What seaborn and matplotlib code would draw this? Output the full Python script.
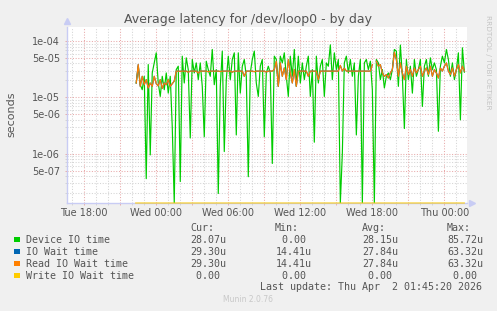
import numpy as np
import pandas as pd
import matplotlib
matplotlib.use("Agg")
import matplotlib.pyplot as plt
import matplotlib.dates as mdates
from matplotlib.patches import Rectangle
from matplotlib.ticker import FixedLocator, FuncFormatter, NullFormatter
import seaborn as sns

# ---------------- data (microseconds, 10-minute samples) ----------------
start_time = "2026-03-31 22:20"
sample_step = "10min"

device_io_us = [
    18.0, 35.8, 16.8, 13.7, 23.7, 0.36, 38.3, 0.95, 27.2, 41.0,
    61.9, 18.0, 10.4, 23.7, 13.7, 27.2, 11.9, 23.7, 3.0, 0.0,
    31.2, 35.8, 0.32, 54.0, 18.0, 50.4, 31.2, 1.9, 47.1, 27.2,
    41.0, 20.7, 41.0, 15.7, 2.0, 43.9, 31.2, 23.7, 71.0, 16.8,
    31.2, 0.196, 15.7, 66.3, 1.09, 20.7, 54.0, 20.7, 47.1, 61.9,
    2.15, 61.9, 11.9, 35.8, 47.1, 23.7, 0.39, 27.2, 47.1, 66.3,
    18.0, 10.4, 35.8, 47.1, 2.0, 27.2, 35.8, 27.2, 0.67, 54.0,
    47.1, 15.7, 54.0, 41.0, 61.9, 23.7, 10.4, 54.0, 23.7, 71.0,
    15.7, 54.0, 18.0, 41.0, 20.7, 35.8, 54.0, 10.4, 31.2, 1.6,
    54.0, 18.0, 35.8, 47.1, 10.4, 41.0, 35.8, 85.72, 20.7, 61.9,
    31.2, 47.1, 0.0, 1.01, 41.0, 54.0, 27.2, 47.1, 23.7, 41.0,
    2.15, 23.7, 47.1, 0.0, 41.0, 47.1, 31.2, 43.9, 13.7, 0.0,
    47.1, 41.0, 20.7, 31.2, 14.7, 23.7, 27.2, 20.7, 31.2, 71.0,
    66.3, 15.7, 85.0, 23.7, 2.8, 47.1, 20.7, 35.8, 11.9, 47.1,
    23.7, 31.2, 47.1, 6.9, 35.8, 47.1, 23.7, 50.4, 31.2, 41.0,
    31.2, 2.5, 35.8, 54.0, 41.0, 71.0, 47.1, 23.7, 41.0, 20.7,
    31.2, 61.9, 4.0, 76.0, 28.07,
]

read_io_wait_us = [
    18.0, 38.3, 15.7, 23.7, 16.8, 20.7, 14.7, 18.0, 15.7, 23.7,
    17.5, 16.0, 20.7, 14.41, 18.0, 16.8, 20.7, 15.7, 17.5, 19.5,
    29.3, 29.3, 29.0, 29.3, 29.3, 29.3, 28.0, 29.3, 29.3, 29.3,
    29.3, 27.0, 29.3, 29.3, 29.3, 29.3, 28.5, 29.3, 29.3, 29.3,
    29.3, 29.3, 28.8, 29.3, 29.3, 29.3, 29.3, 29.3, 28.0, 29.3,
    29.3, 29.3, 29.3, 29.3, 23.7, 29.3, 29.3, 29.3, 29.3, 28.6,
    29.3, 29.3, 29.3, 29.3, 29.3, 28.2, 29.3, 29.3, 29.3, 31.2,
    43.9, 15.7, 41.0, 23.7, 33.4, 20.7, 47.1, 27.2, 18.0, 31.2,
    15.7, 29.3, 29.3, 29.3, 29.3, 29.3, 23.7, 29.3, 29.3, 29.3,
    29.3, 20.7, 29.3, 29.3, 29.3, 29.3, 29.3, 29.3, 29.3, 29.3,
    29.3, 29.3, 37.0, 29.3, 33.0, 29.3, 29.3, 29.3, 29.3, 29.3,
    29.3, 29.3, 29.3, 29.3, 29.3, 29.3, 29.3, 29.3, 38.3, np.nan,
    43.9, 35.8, 38.3, 27.2, 23.7, 25.4, 22.1, 27.2, 31.2, 63.32,
    47.1, 23.7, 41.0, 27.2, 20.7, 35.8, 25.4, 31.2, 23.7, 33.4,
    27.2, 31.2, 35.8, 23.7, 29.3, 33.4, 25.4, 35.8, 23.7, 31.2,
    27.2, 22.1, 33.4, 29.3, 35.8, 41.0, 29.3, 25.4, 33.4, 23.7,
    31.2, 38.3, 27.2, 35.8, 29.3,
]
io_wait_us = list(read_io_wait_us)          # identical per legend statistics
write_io_wait_us = [0.0] * len(device_io_us)  # constant 0.00 per legend

series_names = ["Device IO time", "IO Wait time", "Read IO Wait time", "Write IO Wait time"]
series_colors = ["#00CC00", "#0066B3", "#FF8000", "#FFCC00"]
stat_cur = ["28.07u", "29.30u", "29.30u", " 0.00"]
stat_min = [" 0.00", "14.41u", "14.41u", " 0.00"]
stat_avg = ["28.15u", "27.84u", "27.84u", " 0.00"]
stat_max = ["85.72u", "63.32u", "63.32u", " 0.00"]

title = "Average latency for /dev/loop0 - by day"
y_label = "seconds"
last_update = "Last update: Thu Apr  2 01:45:20 2026"
x_start, x_end = "2026-03-31 16:34", "2026-04-02 01:53"
y_min, y_max = 1.33e-7, 1.78e-4
y_major = [5e-7, 1e-6, 5e-6, 1e-5, 5e-5, 1e-4]
y_major_labels = ["5e-07", "1e-06", "5e-06", "1e-05", "5e-05", "1e-04"]

# ---------------- frame ----------------
times = pd.date_range(start_time, periods=len(device_io_us), freq=sample_step)
df = pd.DataFrame({
    "time": times,
    "device": np.array(device_io_us) * 1e-6,
    "iowait": np.array(io_wait_us) * 1e-6,
    "read": np.array(read_io_wait_us) * 1e-6,
    "write": np.array(write_io_wait_us) * 1e-6,
})
# a value of 0 sits on the floor of the log axis (as rrdtool draws it)
for c in ["device", "write"]:
    df[c] = df[c].clip(lower=y_min)
# segment id so the gap in the wait-time series is not bridged
df["segment"] = df["read"].isna().cumsum()

# ---------------- figure ----------------
W, H = 497, 311
fig = plt.figure(figsize=(W / 100, H / 100), dpi=100, facecolor="#F0F0F0")
ax = fig.add_axes([67 / W, 1 - 203 / H, 400 / W, 176 / H])
ax.set_facecolor("white")

lw = 0.85
sns.lineplot(data=df, x="time", y="device", color=series_colors[0], lw=lw,
             estimator=None, sort=False, ax=ax, zorder=3)
sns.lineplot(data=df, x="time", y="iowait", units="segment", color=series_colors[1], lw=lw,
             estimator=None, sort=False, ax=ax, zorder=4)
sns.lineplot(data=df, x="time", y="read", units="segment", color=series_colors[2], lw=lw,
             estimator=None, sort=False, ax=ax, zorder=5)
sns.lineplot(data=df, x="time", y="write", color=series_colors[3], lw=1.3, alpha=0.55,
             estimator=None, sort=False, ax=ax, zorder=6, clip_on=False)

ax.set_yscale("log")
ax.set_ylim(y_min, y_max)
ax.set_xlim(pd.Timestamp(x_start), pd.Timestamp(x_end))

# y ticks & grid
ax.yaxis.set_major_locator(FixedLocator(y_major))
ax.yaxis.set_major_formatter(FuncFormatter(lambda v, p: y_major_labels[y_major.index(min(y_major, key=lambda m: abs(np.log10(m) - np.log10(v))))]))
minor_vals = [m * 10.0 ** e for e in range(-7, -3) for m in (2, 3, 4, 6, 7, 8, 9)]
ax.yaxis.set_minor_locator(FixedLocator([v for v in minor_vals if y_min < v < y_max]))
ax.yaxis.set_minor_formatter(NullFormatter())

# x ticks & grid
ax.xaxis.set_major_locator(mdates.HourLocator(byhour=range(0, 24, 3)))
ax.xaxis.set_minor_locator(mdates.HourLocator())
ax.xaxis.set_major_formatter(FuncFormatter(
    lambda v, p: mdates.num2date(v).strftime("%a %H:%M") if mdates.num2date(v).hour % 6 == 0 else ""))

major_c, minor_c = "#E8AAAA", "#D4D4D4"
dot = (0, (1.0, 1.6))
ax.grid(which="major", color=major_c, linestyle=dot, lw=0.75, zorder=1)
ax.grid(which="minor", color=minor_c, linestyle=dot, lw=0.75, zorder=1)
ax.set_axisbelow(True)

ax.tick_params(which="major", length=1.5, width=0.7, color=major_c, labelsize=7,
               labelcolor="#555555", pad=3.5)
ax.tick_params(which="minor", length=1.5, width=0.7, color=minor_c)
ax.tick_params(axis="x", which="major", pad=2.2)
for lab in ax.get_xticklabels() + ax.get_yticklabels():
    lab.set_fontfamily("DejaVu Sans")

for s in ["top", "right"]:
    ax.spines[s].set_visible(False)
for s in ["left", "bottom"]:
    ax.spines[s].set_color("#C8CCF4")
    ax.spines[s].set_linewidth(1.0)
ax.set_xlabel("")
ax.set_ylabel("")

# axis arrows
ax.plot([0], [1.035], marker="^", ms=4, color="#C8CCF4", transform=ax.transAxes, clip_on=False)
ax.plot([1.012], [0], marker=">", ms=4, color="#C8CCF4", transform=ax.transAxes, clip_on=False)

# ---------------- texts ----------------
def fx(x): return x / W
def fy(y): return 1 - y / H

fig.text(fx(248), fy(19.5), title, ha="center", va="center", fontsize=9, color="#555555",
         family="DejaVu Sans")
fig.text(fx(11), fy(114), y_label, ha="center", va="center", rotation=90, fontsize=8,
         color="#555555", family="DejaVu Sans")
fig.text(fx(488), fy(15), "RRDTOOL / TOBI OETIKER", ha="center", va="top", rotation=270,
         fontsize=5.3, color="#C4C4C4", family="DejaVu Sans")

mono = dict(family="DejaVu Sans Mono", fontsize=7.2, color="#555555", va="center")
fig.text(fx(190), fy(228.3), "Cur:", ha="left", **mono)
fig.text(fx(275), fy(228.3), "Min:", ha="left", **mono)
fig.text(fx(362), fy(228.3), "Avg:", ha="left", **mono)
fig.text(fx(447), fy(228.3), "Max:", ha="left", **mono)
rows_y = [239.7, 251.7, 263.7, 275.7]
for name, col, cu, mi, av, ma, yy in zip(series_names, series_colors, stat_cur, stat_min,
                                          stat_avg, stat_max, rows_y):
    fig.patches.append(Rectangle((fx(14.2), fy(yy + 2.7)), 5.4 / W, 5.4 / H,
                                 transform=fig.transFigure, facecolor=col, edgecolor="none"))
    fig.text(fx(26), fy(yy), name, ha="left", **mono)
    fig.text(fx(190), fy(yy), cu, ha="left", **mono)
    fig.text(fx(276), fy(yy), mi, ha="left", **mono)
    fig.text(fx(362), fy(yy), av, ha="left", **mono)
    fig.text(fx(447), fy(yy), ma, ha="left", **mono)
fig.text(fx(482), fy(287.3), last_update, ha="right", **mono)
fig.text(fx(248), fy(300), "Munin 2.0.76", ha="center", va="center", fontsize=5.5,
         color="#C8C8C8", family="DejaVu Sans")

fig.savefig("out.png", dpi=100, facecolor=fig.get_facecolor())
